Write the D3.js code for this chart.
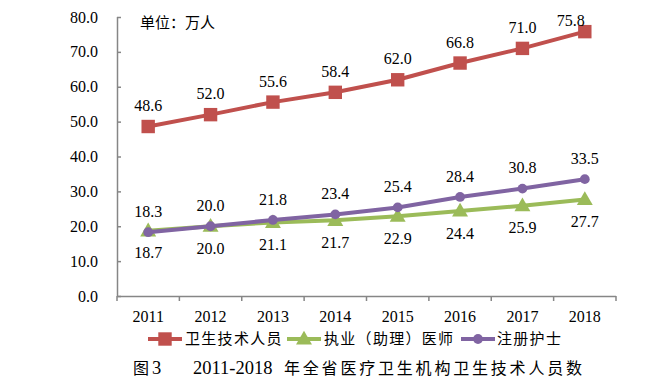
<!DOCTYPE html>
<html>
<head>
<meta charset="utf-8">
<script src="https://cdn.jsdelivr.net/npm/d3@7"></script>
<style>
  body { margin: 0; background: #fff; }
</style>
</head>
<body>
<div id="chart"></div>
<script>
const years = ['2011', '2012', '2013', '2014', '2015', '2016', '2017', '2018']
const techStaff = [48.6, 52.0, 55.6, 58.4, 62.0, 66.8, 71.0, 75.8]
const doctors = [18.7, 20.0, 21.1, 21.7, 22.9, 24.4, 25.9, 27.7]
const nurses = [18.3, 20.0, 21.8, 23.4, 25.4, 28.4, 30.8, 33.5]
const yTicks = [0, 10, 20, 30, 40, 50, 60, 70, 80]
const seriesNames = ['卫生技术人员', '执业（助理）医师', '注册护士']

const WIDTH = 666
const HEIGHT = 386
const axisColor = '#868686'
const SERIF = '"Liberation Serif"'
const CJK = '"Noto Sans CJK SC"'

const svg = d3.select('#chart')
    .append('svg')
    .attr('width', WIDTH)
    .attr('height', HEIGHT)

const xScale = d3.scaleBand()
    .domain(years)
    .range([117, 616])
    .padding(0)

const yScale = d3.scaleLinear()
    .domain([0, 80])
    .range([296, 17])

// y axis, ticks pointing inward
const yAxis = svg.append('g')
    .attr('transform', 'translate(117, 0)')
    .call(d3.axisRight(yScale).tickValues(yTicks).tickSize(4).tickFormat(''))
yAxis.select('.domain').attr('d', `M0.5,${yScale(80)}V${yScale(0)}`)
yAxis.selectAll('path, line').attr('stroke', axisColor).attr('stroke-width', 1.5)

svg.append('g')
    .selectAll('text')
    .data(yTicks)
    .join('text')
    .attr('x', 98)
    .attr('y', d => yScale(d))
    .attr('dy', '0.35em')
    .attr('text-anchor', 'end')
    .style('font-family', SERIF)
    .style('font-size', '16px')
    .text(d => d.toFixed(1))

// x axis, ticks at band boundaries
const xAxis = svg.append('g')
    .attr('transform', `translate(0, ${yScale(0)})`)
xAxis.append('path')
    .attr('d', `M117,0.5H${xScale.range()[1]}`)
    .attr('stroke', axisColor)
    .attr('stroke-width', 1.5)
xAxis.selectAll('line')
    .data(years.concat(['end']))
    .join('line')
    .attr('x1', (d, i) => i < years.length ? xScale(d) : xScale.range()[1])
    .attr('x2', (d, i) => i < years.length ? xScale(d) : xScale.range()[1])
    .attr('y1', 0)
    .attr('y2', 5)
    .attr('stroke', axisColor)
    .attr('stroke-width', 1.5)
xAxis.selectAll('text')
    .data(years)
    .join('text')
    .attr('x', d => xScale(d) + xScale.bandwidth() / 2)
    .attr('y', 20)
    .attr('dy', '0.35em')
    .attr('text-anchor', 'middle')
    .style('font-family', SERIF)
    .style('font-size', '16px')
    .text(d => d)

const cx = d => xScale(d) + xScale.bandwidth() / 2

const series = [
    { name: seriesNames[0], values: techStaff, colour: '#C0504D', marker: 'square', labelDy: -21 },
    { name: seriesNames[1], values: doctors, colour: '#9BBB59', marker: 'triangle', labelDy: 22 },
    { name: seriesNames[2], values: nurses, colour: '#8064A2', marker: 'circle', labelDy: -21 }
]

const symbolOf = {
    square: d3.symbol().type(d3.symbolSquare).size(180),
    triangle: d3.symbol().type(d3.symbolTriangle).size(110),
    circle: d3.symbol().type(d3.symbolCircle).size(75)
}

const line = d3.line()
    .x((d, i) => cx(years[i]))
    .y(d => yScale(d))

// draw order: red, green, purple on top
series.forEach(s => {
    const g = svg.append('g')
    g.append('path')
        .attr('d', line(s.values))
        .attr('fill', 'none')
        .attr('stroke', s.colour)
        .attr('stroke-width', 4)
    g.selectAll('path.marker')
        .data(s.values)
        .join('path')
        .attr('class', 'marker')
        .attr('d', symbolOf[s.marker])
        .attr('transform', (d, i) => `translate(${cx(years[i])}, ${yScale(d) + (s.marker === 'triangle' ? 1 : 0)})`)
        .attr('fill', s.colour)
})

// last red label sits up-left of its marker
const isLastRed = (s, i) => s.marker === 'square' && i === years.length - 1

series.forEach(s => {
    svg.append('g')
        .selectAll('text')
        .data(s.values)
        .join('text')
        .attr('x', (d, i) => cx(years[i]) - (isLastRed(s, i) ? 14 : 0))
        .attr('y', (d, i) => yScale(d) + (isLastRed(s, i) ? -11 : s.labelDy))
        .attr('dy', '0.35em')
        .attr('text-anchor', 'middle')
        .style('font-family', SERIF)
        .style('font-size', '16px')
        .text(d => d.toFixed(1))
})

// unit note
svg.append('text')
    .attr('x', 140)
    .attr('y', 23)
    .attr('dy', '0.35em')
    .style('font-family', CJK)
    .style('font-size', '15px')
    .text('单位：万人')

// legend
const legendItems = [
    { x: 148, textX: 185 },
    { x: 287, textX: 324 },
    { x: 461, textX: 497 }
]
const legend = svg.append('g').attr('transform', 'translate(0, 339)')
series.forEach((s, i) => {
    const item = legend.append('g')
    item.append('line')
        .attr('x1', legendItems[i].x)
        .attr('x2', legendItems[i].x + 34)
        .attr('y1', 0)
        .attr('y2', 0)
        .attr('stroke', s.colour)
        .attr('stroke-width', 4)
    item.append('path')
        .attr('d', symbolOf[s.marker])
        .attr('transform', `translate(${legendItems[i].x + 17}, ${s.marker === 'triangle' ? 1 : 0})`)
        .attr('fill', s.colour)
    item.append('text')
        .attr('x', legendItems[i].textX)
        .attr('y', 0)
        .attr('dy', '0.35em')
        .style('font-family', CJK)
        .style('font-size', '15px')
        .style('letter-spacing', '1.3px')
        .text(s.name)
})

// caption
const caption = svg.append('g').attr('transform', 'translate(0, 368)')
caption.append('text')
    .attr('x', 133)
    .attr('dy', '0.35em')
    .style('font-family', CJK)
    .style('font-size', '16px')
    .text('图')
caption.append('text')
    .attr('x', 152)
    .attr('dy', '0.35em')
    .style('font-family', SERIF)
    .style('font-size', '18.5px')
    .text('3')
caption.append('text')
    .attr('x', 193)
    .attr('dy', '0.35em')
    .style('font-family', SERIF)
    .style('font-size', '18.5px')
    .text('2011-2018')
caption.append('text')
    .attr('x', 284)
    .attr('dy', '0.35em')
    .style('font-family', CJK)
    .style('font-size', '16px')
    .style('letter-spacing', '2.8px')
    .text('年全省医疗卫生机构卫生技术人员数')
</script>
</body>
</html>
